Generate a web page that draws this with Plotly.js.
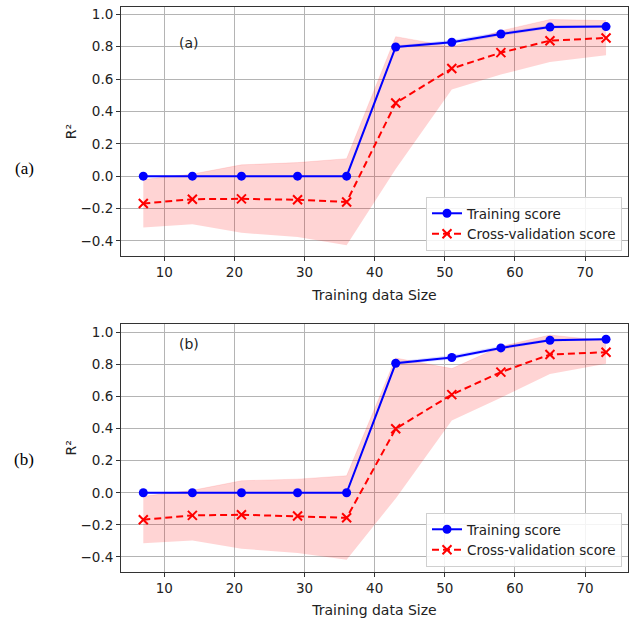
<!DOCTYPE html>
<html>
<head>
<meta charset="utf-8">
<script src="https://cdn.plot.ly/plotly-3.0.1.min.js"></script>
<style>html,body{margin:0;padding:0;background:#fff;}#chart{width:634px;height:618px;}</style>
</head>
<body>
<div id="chart"></div>
<script>
// ---- data ----
const trainSizes = [7, 14, 21, 29, 36, 43, 51, 58, 65, 73];

// panel (a)
const trainA     = [0, 0, 0, 0, 0, 0.798, 0.827, 0.878, 0.921, 0.924];
const trainLowA  = [0, 0, 0, 0, 0, 0.790, 0.815, 0.866, 0.912, 0.918];
const trainHighA = [0, 0, 0, 0, 0, 0.806, 0.839, 0.890, 0.930, 0.930];
const cvA        = [-0.169, -0.142, -0.140, -0.146, -0.159, 0.452, 0.665, 0.763, 0.837, 0.854];
const cvLowA     = [-0.317, -0.297, -0.350, -0.376, -0.426, 0.045, 0.535, 0.628, 0.706, 0.747];
const cvHighA    = [-0.021, 0.013, 0.070, 0.084, 0.108, 0.862, 0.800, 0.898, 0.968, 0.961];

// panel (b)
const trainB     = [0, 0, 0, 0, 0, 0.807, 0.843, 0.903, 0.951, 0.957];
const trainLowB  = [0, 0, 0, 0, 0, 0.798, 0.830, 0.892, 0.943, 0.952];
const trainHighB = [0, 0, 0, 0, 0, 0.816, 0.856, 0.914, 0.959, 0.962];
const cvB        = [-0.168, -0.141, -0.137, -0.145, -0.156, 0.399, 0.612, 0.752, 0.862, 0.876];
const cvLowB     = [-0.314, -0.297, -0.349, -0.375, -0.418, -0.035, 0.450, 0.592, 0.741, 0.804];
const cvHighB    = [-0.022, 0.015, 0.075, 0.085, 0.106, 0.840, 0.774, 0.912, 0.983, 0.948];

const seriesNames = ['Training score', 'Cross-validation score'];
const panelTags = ['(a)', '(b)'];
const xTitle = 'Training data Size';
const yTitle = 'R²';
const yTicks = [-0.4, -0.2, 0.0, 0.2, 0.4, 0.6, 0.8, 1.0];
const xTicks = [10, 20, 30, 40, 50, 60, 70];

// ---- styling ----
const BLUE = '#0000ff', RED = '#ff0000';
const FONT = 'DejaVu Sans, sans-serif';
const TXT = '#222222';

function band(xa, ax, low, high, fillColor) {
  return [
    {x: xa, y: low, xaxis: ax.x, yaxis: ax.y, mode: 'lines', line: {width: 0, color: fillColor},
     showlegend: false, hoverinfo: 'skip'},
    {x: xa, y: high, xaxis: ax.x, yaxis: ax.y, mode: 'lines', line: {width: 0.6, color: fillColor},
     fill: 'tonexty', fillcolor: fillColor, showlegend: false, hoverinfo: 'skip'}
  ];
}

function panel(ax, train, tLow, tHigh, cv, cLow, cHigh, legendId) {
  return [
    ...band(trainSizes, ax, tLow, tHigh, 'rgba(0,0,255,0.12)'),
    ...band(trainSizes, ax, cLow, cHigh, 'rgba(255,0,0,0.17)'),
    {x: trainSizes, y: train, xaxis: ax.x, yaxis: ax.y, name: seriesNames[0], legend: legendId,
     mode: 'lines+markers', line: {color: BLUE, width: 2}, marker: {color: BLUE, size: 9, symbol: 'circle'}},
    {x: trainSizes, y: cv, xaxis: ax.x, yaxis: ax.y, name: seriesNames[1], legend: legendId,
     mode: 'lines+markers', line: {color: RED, width: 2, dash: '7px,4px'},
     marker: {color: RED, size: 9, symbol: 'x-thin', line: {color: RED, width: 2}}}
  ];
}

const data = [
  ...panel({x: 'x', y: 'y'}, trainA, trainLowA, trainHighA, cvA, cvLowA, cvHighA, 'legend'),
  ...panel({x: 'x2', y: 'y2'}, trainB, trainLowB, trainHighB, cvB, cvLowB, cvHighB, 'legend2')
];

const W = 634, H = 618;
const px = v => v / W, py = v => 1 - v / H;

function xAxis(anchor) {
  return {
    domain: [px(121), px(628)], anchor: anchor, range: [3.82, 76.13],
    tickvals: xTicks, ticks: 'outside', ticklen: 4, tickwidth: 1, tickcolor: '#333',
    showline: true, mirror: true, linecolor: '#333', linewidth: 1,
    showgrid: true, gridcolor: '#b4b4b4', gridwidth: 1, zeroline: false,
    tickfont: {family: FONT, size: 13.5, color: TXT},
    title: {text: xTitle, font: {family: FONT, size: 14, color: TXT}, standoff: 10}
  };
}
function yAxis(domain, anchor, range) {
  return {
    domain: domain, anchor: anchor, range: range,
    tickvals: yTicks, tickformat: '.1f', ticks: 'outside', ticklen: 4, tickwidth: 1, tickcolor: '#333',
    showline: true, mirror: true, linecolor: '#333', linewidth: 1,
    showgrid: true, gridcolor: '#b4b4b4', gridwidth: 1, zeroline: false,
    tickfont: {family: FONT, size: 13.5, color: TXT},
    title: {text: yTitle, font: {family: FONT, size: 14, color: TXT}, standoff: 0}
  };
}

const legendBase = {
  xanchor: 'right', yanchor: 'bottom', bgcolor: 'rgba(255,255,255,0.85)',
  bordercolor: '#d0d0d0', borderwidth: 1, font: {family: FONT, size: 13.5, color: TXT},
  tracegroupgap: 0, itemwidth: 30, traceorder: 'normal'
};

const layout = {
  width: W, height: H, margin: {l: 0, r: 0, t: 0, b: 0},
  paper_bgcolor: '#ffffff', plot_bgcolor: '#ffffff',
  showlegend: true,
  xaxis: xAxis('y'),
  yaxis: yAxis([py(256), py(7)], 'x', [-0.493, 1.045]),
  xaxis2: xAxis('y2'),
  yaxis2: yAxis([py(571.7), py(324)], 'x2', [-0.492, 1.052]),
  legend: Object.assign({}, legendBase, {x: px(622), y: py(251)}),
  legend2: Object.assign({}, legendBase, {x: px(622), y: py(567)}),
  annotations: [
    {text: panelTags[0], xref: 'x', yref: 'y', x: 13.5, y: 0.82, showarrow: false,
     font: {family: FONT, size: 14, color: TXT}},
    {text: panelTags[1], xref: 'x2', yref: 'y2', x: 13.5, y: 0.93, showarrow: false,
     font: {family: FONT, size: 14, color: TXT}},
    {text: panelTags[0], xref: 'paper', yref: 'paper', x: px(24), y: py(157), xanchor: 'center',
     showarrow: false, font: {family: 'Liberation Serif, Times New Roman, serif', size: 17, color: '#000'}},
    {text: panelTags[1], xref: 'paper', yref: 'paper', x: px(24), y: py(471), xanchor: 'center',
     showarrow: false, font: {family: 'Liberation Serif, Times New Roman, serif', size: 17, color: '#000'}}
  ]
};

Plotly.newPlot('chart', data, layout, {staticPlot: true, displayModeBar: false});
</script>
</body>
</html>
